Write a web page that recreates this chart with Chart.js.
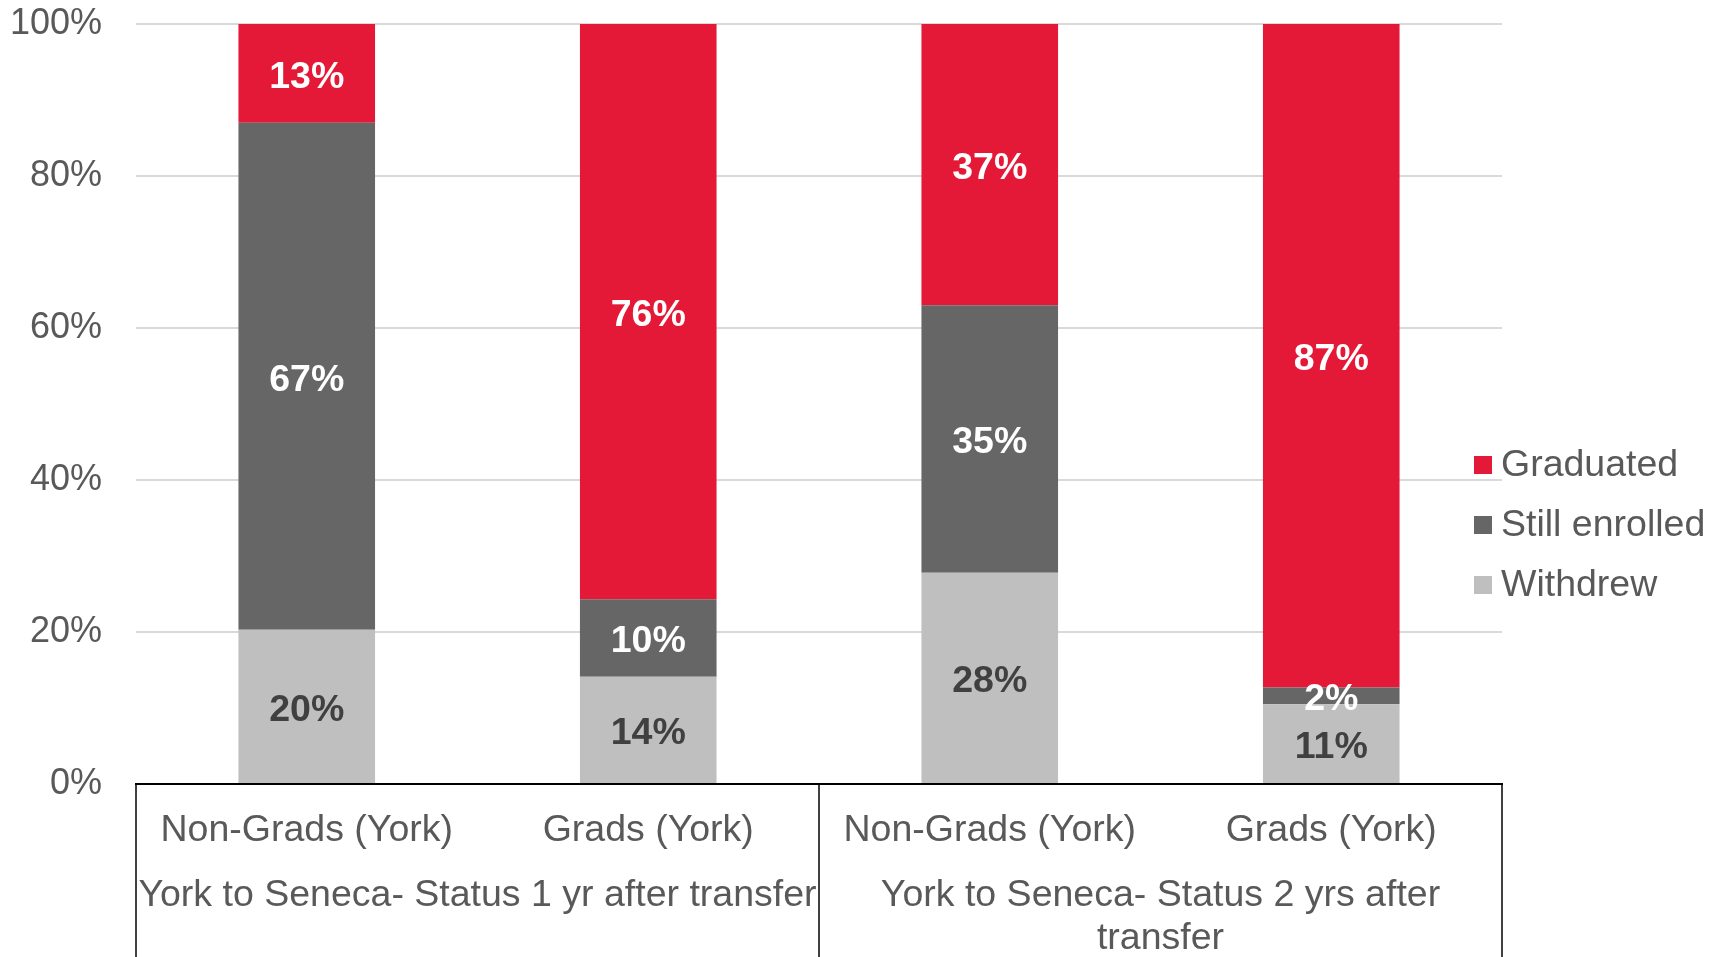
<!DOCTYPE html>
<html>
<head>
<meta charset="utf-8">
<script src="https://cdn.jsdelivr.net/npm/chart.js"></script>
<style>
  html, body { margin: 0; padding: 0; background: #fff; }
  #wrap { width: 1717px; height: 957px; }
</style>
</head>
<body>
<div id="wrap"><canvas id="chart" width="1717" height="957"></canvas></div>
<script>
// categories and groups
var categories = ["Non-Grads (York)", "Grads (York)", "Non-Grads (York)", "Grads (York)"];
var groupLabels = [
  ["York to Seneca- Status 1 yr after transfer"],
  ["York to Seneca- Status 2 yrs after", "transfer"]
];
var groupSizes = [2, 2];

// series values (% of students)
var withdrew = [20.3, 14.1, 27.8, 10.5];
var stillEnrolled = [66.7, 10.2, 35.2, 2.2];
var graduated = [13.0, 75.7, 37.0, 87.3];

var yTicks = [0, 20, 40, 60, 80, 100];

var FONT = "'Liberation Sans', Arial, sans-serif";
var TEXT = "#595959";

// labels in the middle of every segment
var segmentLabels = {
  id: "segmentLabels",
  afterDatasetsDraw: function (chart) {
    var ctx = chart.ctx;
    ctx.save();
    ctx.font = "bold 37.5px " + FONT;
    ctx.textAlign = "center";
    ctx.textBaseline = "middle";
    chart.data.datasets.forEach(function (ds, i) {
      var meta = chart.getDatasetMeta(i);
      meta.data.forEach(function (bar, j) {
        var v = ds.data[j];
        ctx.fillStyle = ds.labelColor;
        ctx.fillText(Math.round(v) + "%", bar.x, (bar.y + bar.base) / 2 + 4);
      });
    });
    ctx.restore();
  }
};

// group boxes under the x axis
var groupAxis = {
  id: "groupAxis",
  afterDraw: function (chart) {
    var ctx = chart.ctx;
    var area = chart.chartArea;
    var step = (area.right - area.left) / categories.length;
    ctx.save();
    ctx.strokeStyle = "#000";
    ctx.lineWidth = 1.5;
    var idx = 0;
    var edges = [area.left];
    groupSizes.forEach(function (n) { idx += n; edges.push(area.left + idx * step); });
    edges.forEach(function (x) {
      ctx.beginPath();
      ctx.moveTo(x, area.bottom);
      ctx.lineTo(x, chart.height);
      ctx.stroke();
    });
    ctx.font = "37.5px " + FONT;
    ctx.fillStyle = TEXT;
    ctx.textAlign = "center";
    ctx.textBaseline = "middle";
    groupLabels.forEach(function (lines, g) {
      var cx = (edges[g] + edges[g + 1]) / 2;
      lines.forEach(function (t, k) {
        ctx.fillText(t, cx, area.bottom + 112 + k * 43);
      });
    });
    ctx.restore();
  }
};

// legend at the right, overlapping the plot edge
var sideLegend = {
  id: "sideLegend",
  afterDraw: function (chart) {
    var ctx = chart.ctx;
    ctx.save();
    ctx.font = "37.5px " + FONT;
    ctx.textBaseline = "middle";
    ctx.textAlign = "left";
    var items = chart.data.datasets.slice().reverse();
    items.forEach(function (ds, k) {
      var cy = 465 + k * 60;
      ctx.fillStyle = ds.backgroundColor;
      ctx.fillRect(1474, cy - 9, 18, 18);
      ctx.fillStyle = TEXT;
      ctx.fillText(ds.label, 1501, cy + 1);
    });
    ctx.restore();
  }
};

new Chart(document.getElementById("chart"), {
  type: "bar",
  data: {
    labels: categories,
    datasets: [
      { label: "Withdrew", data: withdrew, backgroundColor: "#BFBFBF", labelColor: "#404040" },
      { label: "Still enrolled", data: stillEnrolled, backgroundColor: "#666666", labelColor: "#FFFFFF" },
      { label: "Graduated", data: graduated, backgroundColor: "#E31937", labelColor: "#FFFFFF" }
    ]
  },
  options: {
    responsive: false,
    animation: false,
    layout: { padding: { top: 24, right: 215, bottom: 0, left: 0 } },
    datasets: { bar: { barPercentage: 0.4, categoryPercentage: 1.0 } },
    plugins: {
      legend: { display: false },
      tooltip: { enabled: false }
    },
    scales: {
      x: {
        stacked: true,
        grid: { display: false, drawTicks: false },
        border: { display: true, color: "#000", width: 2 },
        ticks: { color: TEXT, font: { family: FONT, size: 37.5 }, padding: 24, maxRotation: 0, autoSkip: false },
        afterFit: function (s) { s.height = 173; }
      },
      y: {
        stacked: true,
        min: 0,
        max: 100,
        afterBuildTicks: function (s) { s.ticks = yTicks.map(function (v) { return { value: v }; }); },
        grid: {
          drawTicks: true,
          tickLength: 34,
          tickColor: "rgba(0,0,0,0)",
          lineWidth: 2,
          color: function (c) { return c.tick && c.tick.value === 0 ? "rgba(0,0,0,0)" : "#D9D9D9"; }
        },
        border: { display: false },
        ticks: {
          color: TEXT,
          font: { family: FONT, size: 36 },
          padding: 0,
          callback: function (v) { return v + "%"; }
        },
        afterFit: function (s) { s.width = 136; }
      }
    }
  },
  plugins: [segmentLabels, groupAxis, sideLegend]
});
</script>
</body>
</html>
